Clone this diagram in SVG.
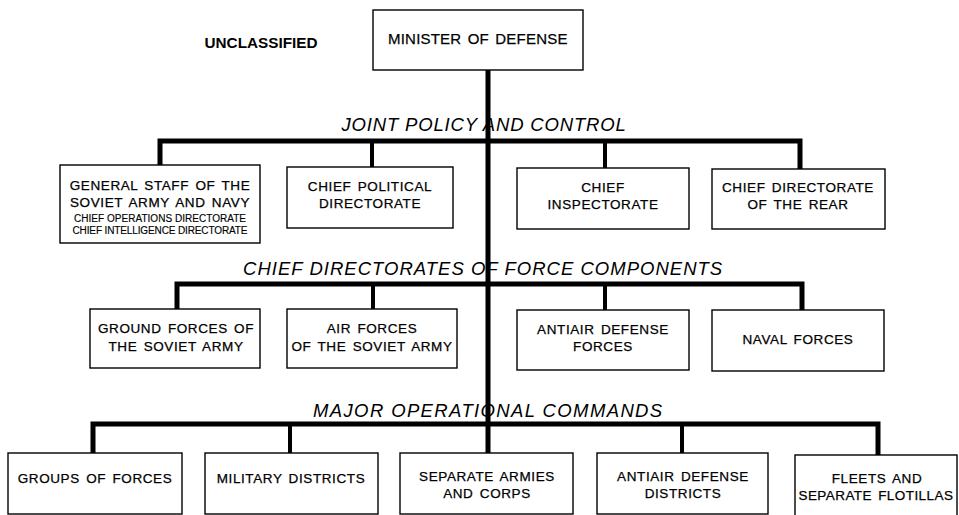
<svg xmlns="http://www.w3.org/2000/svg" width="959" height="515" viewBox="0 0 959 515">
<style>
.box{fill:#fff;stroke:#000;stroke-width:1.4}
.t{font-family:"Liberation Sans",Arial,sans-serif;font-size:13.5px;text-anchor:middle;fill:#000;stroke:#000;stroke-width:0.25;letter-spacing:0.6px;word-spacing:2px}
.s{font-family:"Liberation Sans",Arial,sans-serif;font-size:10px;text-anchor:middle;fill:#000;stroke:#000;stroke-width:0.15}
.h{font-family:"Liberation Sans",Arial,sans-serif;font-size:18.5px;font-style:italic;text-anchor:middle;fill:#000;letter-spacing:0.8px}
.bar{stroke:#000;stroke-width:5;fill:none}
.drop{stroke:#000;stroke-width:4;fill:none}
</style>
<rect width="959" height="515" fill="#fff"/>
<text x="261" y="48" textLength="113" lengthAdjust="spacingAndGlyphs" style="font-family:'Liberation Sans',Arial,sans-serif;font-size:14px;font-weight:bold;text-anchor:middle">UNCLASSIFIED</text>
<g id="connectors">
<line class="bar" x1="488" y1="70" x2="488" y2="453"/>
<polyline class="bar" points="160,167 160,141 800,141 800,169"/>
<line class="drop" x1="372" y1="141" x2="372" y2="167"/>
<line class="drop" x1="605" y1="141" x2="605" y2="168"/>
<polyline class="bar" points="177,309 177,284 802,284 802,310"/>
<line class="drop" x1="373" y1="284" x2="373" y2="309"/>
<line class="drop" x1="605" y1="284" x2="605" y2="310"/>
<polyline class="bar" points="93,453 93,424 878,424 878,455"/>
<line class="drop" x1="290" y1="424" x2="290" y2="453"/>
<line class="drop" x1="682" y1="424" x2="682" y2="453"/>
</g>
<text class="h" x="484" y="131" textLength="285" lengthAdjust="spacing">JOINT POLICY AND CONTROL</text>
<text class="h" x="483" y="275" textLength="480" lengthAdjust="spacing">CHIEF  DIRECTORATES OF FORCE COMPONENTS</text>
<text class="h" x="488" y="417" textLength="350" lengthAdjust="spacing">MAJOR OPERATIONAL COMMANDS</text>
<g id="minister"><rect class="box" x="373" y="10" width="210" height="60"/><text class="t" x="478" y="44" style="font-size:15px" textLength="180" lengthAdjust="spacing">MINISTER OF DEFENSE</text></g>
<g id="genstaff"><rect class="box" x="60" y="165" width="200" height="78"/><text class="t" x="160" y="190">GENERAL STAFF OF THE</text><text class="t" x="160" y="207">SOVIET ARMY AND NAVY</text><text class="s" x="160" y="222" textLength="172" lengthAdjust="spacing">CHIEF OPERATIONS DIRECTORATE</text><text class="s" x="160" y="234" textLength="175" lengthAdjust="spacing">CHIEF INTELLIGENCE DIRECTORATE</text></g>
<g id="political"><rect class="box" x="287" y="167" width="166" height="61"/><text class="t" x="370" y="191">CHIEF  POLITICAL</text><text class="t" x="370" y="208">DIRECTORATE</text></g>
<g id="inspectorate"><rect class="box" x="517" y="168" width="172" height="61"/><text class="t" x="603" y="192">CHIEF</text><text class="t" x="603" y="209">INSPECTORATE</text></g>
<g id="rear"><rect class="box" x="712" y="169" width="173" height="60"/><text class="t" x="798" y="192">CHIEF DIRECTORATE</text><text class="t" x="798" y="209">OF THE REAR</text></g>
<g id="ground"><rect class="box" x="90" y="309" width="170" height="59"/><text class="t" x="176" y="333">GROUND FORCES OF</text><text class="t" x="176" y="351">THE SOVIET ARMY</text></g>
<g id="air"><rect class="box" x="287" y="309" width="170" height="59"/><text class="t" x="372" y="333">AIR FORCES</text><text class="t" x="372" y="351">OF THE SOVIET ARMY</text></g>
<g id="antiairforces"><rect class="box" x="517" y="310" width="172" height="60"/><text class="t" x="603" y="334">ANTIAIR DEFENSE</text><text class="t" x="603" y="351">FORCES</text></g>
<g id="naval"><rect class="box" x="712" y="310" width="172" height="61"/><text class="t" x="798" y="344">NAVAL FORCES</text></g>
<g id="groups"><rect class="box" x="8" y="453" width="174" height="61"/><text class="t" x="95" y="483">GROUPS OF FORCES</text></g>
<g id="military"><rect class="box" x="205" y="453" width="173" height="61"/><text class="t" x="291" y="483">MILITARY DISTRICTS</text></g>
<g id="separate"><rect class="box" x="400" y="453" width="173" height="61"/><text class="t" x="487" y="481">SEPARATE  ARMIES</text><text class="t" x="487" y="498">AND CORPS</text></g>
<g id="antiairdistricts"><rect class="box" x="597" y="453" width="171" height="61"/><text class="t" x="683" y="481">ANTIAIR DEFENSE</text><text class="t" x="683" y="498">DISTRICTS</text></g>
<g id="fleets"><rect class="box" x="795" y="455" width="162" height="62"/><text class="t" x="877" y="483">FLEETS AND</text><text class="t" x="876" y="500" textLength="155" lengthAdjust="spacing">SEPARATE  FLOTILLAS</text></g>
</svg>
